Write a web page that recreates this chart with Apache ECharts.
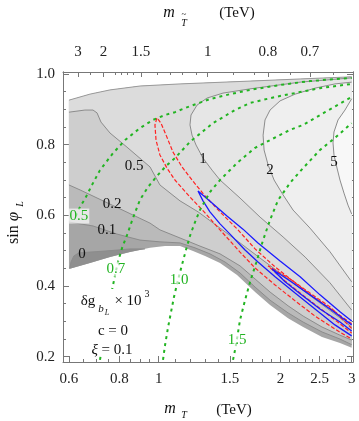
<!DOCTYPE html>
<html>
<head>
<meta charset="utf-8">
<script src="https://cdn.jsdelivr.net/npm/echarts@6/dist/echarts.min.js"></script>
<style>
  html, body { margin: 0; padding: 0; background: #fff; }
  #chart { width: 359px; height: 421px; }
</style>
</head>
<body>
<div id="chart"></div>
<script>
// points are [m_T (TeV), sin phi_L]

// edges of the allowed region
const upperEdge = [[0.600, 0.926], [0.676, 0.943], [0.758, 0.955], [0.899, 0.966], [1.129, 0.972], [1.682, 0.980], [2.237, 0.986], [3.0, 0.992]]
const lowerEdge = [[0.600, 0.448], [0.676, 0.465], [0.758, 0.482], [0.849, 0.496], [0.952, 0.508], [1.037, 0.513], [1.129, 0.513], [1.216, 0.499], [1.302, 0.485], [1.418, 0.465], [1.562, 0.431], [1.731, 0.383], [1.885, 0.346], [2.089, 0.309], [2.276, 0.284], [2.534, 0.256], [2.807, 0.239], [3.0, 0.225]]

// delta g contours (x 10^3)
const contour0 = [[0.603, 0.451], [0.607, 0.468], [0.617, 0.485], [0.635, 0.494], [0.676, 0.496], [0.737, 0.499], [0.793, 0.502], [0.849, 0.505], [0.925, 0.505]]
const contour01 = [[0.600, 0.581], [0.688, 0.570], [0.789, 0.547], [0.899, 0.530], [1.007, 0.525], [1.129, 0.522], [1.230, 0.508], [1.339, 0.491], [1.459, 0.468], [1.589, 0.437], [1.731, 0.397], [1.885, 0.360], [2.089, 0.324], [2.276, 0.298], [2.534, 0.270], [2.807, 0.250], [3.0, 0.234]]
const contour02 = [[0.600, 0.686], [0.639, 0.672], [0.767, 0.629], [0.952, 0.578], [1.007, 0.559], [1.129, 0.536], [1.265, 0.513], [1.418, 0.491], [1.589, 0.457], [1.731, 0.420], [1.885, 0.383], [2.089, 0.344], [2.276, 0.315], [2.534, 0.284], [2.807, 0.261], [3.0, 0.247]]
const contour05 = [[0.600, 0.892], [0.657, 0.898], [0.688, 0.898], [0.704, 0.890], [0.720, 0.864], [0.758, 0.833], [0.835, 0.793], [0.952, 0.737], [1.007, 0.686], [1.129, 0.641], [1.251, 0.610], [1.418, 0.564], [1.589, 0.522], [1.781, 0.479], [1.996, 0.437], [2.237, 0.394], [2.505, 0.352], [2.807, 0.310], [3.0, 0.284]]
const contour1 = [[3.0, 0.989], [2.237, 0.977], [1.682, 0.958], [1.442, 0.946], [1.317, 0.932], [1.244, 0.912], [1.202, 0.884], [1.195, 0.856], [1.209, 0.827], [1.237, 0.799], [1.287, 0.762], [1.355, 0.728], [1.418, 0.700], [1.589, 0.649], [1.781, 0.595], [2.030, 0.539], [2.302, 0.482], [2.652, 0.409], [3.0, 0.332]]
const contour2 = [[3.0, 0.977], [2.728, 0.972], [2.435, 0.960], [2.174, 0.943], [1.996, 0.924], [1.885, 0.898], [1.832, 0.870], [1.812, 0.827], [1.822, 0.785], [1.864, 0.743], [1.929, 0.700], [2.030, 0.658], [2.149, 0.615], [2.366, 0.564], [2.652, 0.497], [3.0, 0.412]]
const contour5 = [[3.0, 0.930], [2.888, 0.898], [2.776, 0.870], [2.713, 0.836], [2.698, 0.805], [2.713, 0.771], [2.760, 0.734], [2.807, 0.700], [2.872, 0.663], [2.938, 0.629], [3.0, 0.604]]

// allowed regions
const blueOuter = [[3.0, 0.301], [2.807, 0.327], [2.505, 0.375], [2.237, 0.426], [1.996, 0.471], [1.760, 0.522], [1.616, 0.561], [1.475, 0.598], [1.355, 0.635], [1.251, 0.669], [1.287, 0.641], [1.339, 0.610], [1.418, 0.576], [1.501, 0.547], [1.635, 0.502], [1.760, 0.468], [1.940, 0.426], [2.174, 0.380], [2.435, 0.335], [2.728, 0.290], [3.0, 0.259]]
const blueInner = [[3.0, 0.290], [2.652, 0.335], [2.366, 0.375], [2.113, 0.414], [1.907, 0.448], [2.053, 0.412], [2.237, 0.378], [2.505, 0.335], [2.807, 0.298], [3.0, 0.273]]
const redOuter = [[3.0, 0.293], [2.728, 0.327], [2.435, 0.366], [2.174, 0.409], [1.940, 0.454], [1.731, 0.505], [1.571, 0.559], [1.418, 0.610], [1.302, 0.655], [1.209, 0.700], [1.142, 0.737], [1.085, 0.779], [1.043, 0.827], [1.013, 0.861], [0.990, 0.876], [0.979, 0.856], [0.985, 0.813], [1.007, 0.771], [1.048, 0.734], [1.097, 0.700], [1.195, 0.652], [1.302, 0.607], [1.418, 0.559], [1.589, 0.496], [1.731, 0.451], [1.940, 0.403], [2.174, 0.358], [2.435, 0.315], [2.728, 0.278], [3.0, 0.250]]
const redInner = [[3.0, 0.280], [2.652, 0.341], [2.366, 0.380], [2.113, 0.420], [1.864, 0.457], [2.053, 0.414], [2.302, 0.369], [2.652, 0.315], [3.0, 0.267]]

// m_T~ contours
const tilde05 = [[0.624, 0.598], [0.639, 0.624], [0.657, 0.646], [0.684, 0.686], [0.716, 0.728], [0.771, 0.776], [0.826, 0.813], [0.899, 0.847], [0.968, 0.870], [1.037, 0.884], [1.097, 0.892], [1.195, 0.909], [1.339, 0.929], [1.501, 0.943], [1.682, 0.955], [1.996, 0.969], [2.366, 0.980], [3.0, 0.989]]
const tilde07 = [[0.716, 0.191], [0.732, 0.261], [0.749, 0.332], [0.767, 0.389], [0.780, 0.431], [0.793, 0.468], [0.812, 0.508], [0.835, 0.544], [0.864, 0.593], [0.899, 0.644], [0.941, 0.680], [0.990, 0.711], [1.043, 0.740], [1.097, 0.762], [1.195, 0.808], [1.362, 0.861], [1.544, 0.898], [1.682, 0.918], [1.940, 0.935], [2.237, 0.949], [2.505, 0.960], [3.0, 0.972]]
const tilde10 = [[1.025, 0.191], [1.037, 0.233], [1.054, 0.281], [1.073, 0.327], [1.091, 0.369], [1.116, 0.417], [1.142, 0.460], [1.168, 0.502], [1.195, 0.542], [1.230, 0.581], [1.265, 0.615], [1.339, 0.666], [1.418, 0.700], [1.562, 0.748], [1.731, 0.791], [1.885, 0.813], [2.113, 0.842], [2.276, 0.856], [2.577, 0.892], [3.0, 0.935]]
const tilde15 = [[1.527, 0.191], [1.553, 0.233], [1.589, 0.304], [1.635, 0.360], [1.682, 0.411], [1.741, 0.465], [1.812, 0.530], [1.885, 0.587], [1.973, 0.643], [2.113, 0.692], [2.276, 0.734], [2.505, 0.785], [2.728, 0.819], [3.0, 0.861]]

// labels
const contourLabels = ['0.5', '0.2', '0.1', '0', '1', '2', '5']
const contourLabelAt = [[0.869, 0.740], [0.767, 0.632], [0.745, 0.559], [0.646, 0.491], [1.287, 0.759], [1.885, 0.728], [2.713, 0.751]]
const tildeLabels = ['0.5', '0.7', '1.0', '1.5']
const tildeLabelAt = [[0.635, 0.598], [0.784, 0.448], [1.123, 0.417], [1.562, 0.247]]

// ticks
const bottomMajor = [0.6, 0.8, 1, 1.5, 2, 2.5, 3]
const bottomMinor = [0.65, 0.7, 0.75, 0.85, 0.9, 0.95, 1.1, 1.2, 1.3, 1.4, 1.6, 1.7, 1.8, 1.9, 2.1, 2.2, 2.3, 2.4, 2.6, 2.7, 2.8, 2.9]
const topMajorLabels = ['3', '2', '1.5', '1', '0.8', '0.7']
const topMajorAt = [0.632, 0.730, 0.903, 1.322, 1.863, 2.366]
const topMinorAt = [0.676, 0.780, 0.806, 0.835, 0.865, 0.990, 1.067, 1.142, 1.237, 1.527, 1.72, 2.11, 2.70]
const yMajor = [0.2, 0.4, 0.6, 0.8, 1.0]
const yMinor = [0.25, 0.3, 0.35, 0.45, 0.5, 0.55, 0.65, 0.7, 0.75, 0.85, 0.9, 0.95]

const levelColors = ['#8f8f8f', '#a6a6a6', '#bababa', '#cecece', '#dcdcdc', '#e6e6e6', '#efefef', '#f8f8f8']
const SERIF = '"Liberation Serif", "DejaVu Serif", serif'
const FRAME = '#777'
const GREEN = '#22b422'

const lg = v => Math.log10(v)
const X_MIN = lg(0.58)
const X_MAX = lg(3.023)
const Y_MIN = 0.185
const Y_MAX = 1.0057

const nearest = (list, v) => {
  let best = 0
  list.forEach((p, i) => { if (Math.abs(lg(p) - v) < Math.abs(lg(list[best]) - v)) best = i })
  return best
}

function area(points, color) {
  return {
    type: 'custom',
    silent: true,
    z: 1,
    clip: true,
    data: [[0, 0.5]],
    renderItem: function(params, api) {
      return {
        type: 'polygon',
        shape: { points: points.map(p => api.coord([lg(p[0]), p[1]])) },
        style: { fill: color }
      }
    }
  }
}

function curve(points, lineStyle, z) {
  return {
    type: 'line',
    silent: true,
    z: z,
    symbol: 'none',
    animation: false,
    data: points.map(p => [lg(p[0]), p[1]]),
    lineStyle: lineStyle
  }
}

function textMarks(texts, at, style, z) {
  return {
    type: 'custom',
    silent: true,
    z: z,
    clip: false,
    data: at.map(p => [lg(p[0]), p[1]]),
    renderItem: function(params, api) {
      const pt = api.coord([api.value(0), api.value(1)])
      return {
        type: 'text',
        x: pt[0],
        y: pt[1],
        style: Object.assign({ text: texts[params.dataIndex], align: 'center', verticalAlign: 'middle' }, style)
      }
    }
  }
}

const grayLine = { color: '#8c8c8c', width: 1 }
const blueLine = { color: '#1a1aff', width: 1.3 }
const redLine = { color: '#ff2222', width: 1.2, type: [4, 2] }
const greenLine = { color: GREEN, width: 2, type: [3, 4] }

const domain = upperEdge.concat(lowerEdge.slice().reverse())
const darkPart = contour0.concat(lowerEdge.slice(0, 4).reverse())

const series = [
  area(domain, levelColors[1]),
  area(darkPart, levelColors[0]),
  area(upperEdge.concat(contour01.slice().reverse()), levelColors[2]),
  area(upperEdge.concat(contour02.slice().reverse()), levelColors[3]),
  area(upperEdge.concat(contour05.slice().reverse()), levelColors[4]),
  area(contour1, levelColors[5]),
  area(contour2, levelColors[6]),
  area(contour5, levelColors[7]),
  curve(upperEdge, { color: '#9a9a9a', width: 1 }, 2),
  curve(contour0, grayLine, 2),
  curve(contour01, grayLine, 2),
  curve(contour02, grayLine, 2),
  curve(contour05, grayLine, 2),
  curve(contour1, grayLine, 2),
  curve(contour2, grayLine, 2),
  curve(contour5, grayLine, 2),
  curve(redOuter, redLine, 3),
  curve(redInner, redLine, 3),
  curve(blueOuter, blueLine, 3),
  curve(blueInner, blueLine, 3),
  curve(tilde05, greenLine, 4),
  curve(tilde07, greenLine, 4),
  curve(tilde10, greenLine, 4),
  curve(tilde15, greenLine, 4),
  textMarks(contourLabels, contourLabelAt, { font: '15px ' + SERIF, fill: '#111' }, 5),
  textMarks(tildeLabels, tildeLabelAt, {
    font: '15px ' + SERIF, fill: GREEN, backgroundColor: 'rgba(255,255,255,0.65)', padding: [0, 1]
  }, 5)
]

const tickFont = { fontFamily: SERIF, fontSize: 15, color: '#222' }
const noSplit = { show: false }

function xAxis(position, major, labels, length, showLine) {
  const vals = major.map(lg)
  return {
    type: 'value',
    position: position,
    min: X_MIN,
    max: X_MAX,
    splitLine: noSplit,
    axisLine: { show: showLine, onZero: false, lineStyle: { color: FRAME } },
    axisTick: { inside: true, length: length, customValues: vals, lineStyle: { color: FRAME } },
    axisLabel: labels ? Object.assign({
      customValues: vals,
      margin: position === 'top' ? 12 : 10,
      formatter: v => labels[nearest(major, v)]
    }, tickFont) : { show: false }
  }
}

function yAxis(position, ticks, length, showLabels) {
  return {
    type: 'value',
    position: position,
    min: Y_MIN,
    max: Y_MAX,
    splitLine: noSplit,
    axisLine: { show: true, onZero: false, lineStyle: { color: FRAME } },
    axisTick: { inside: true, length: length, customValues: ticks, lineStyle: { color: FRAME } },
    axisLabel: showLabels ? Object.assign({
      customValues: ticks, margin: 8, formatter: v => v.toFixed(1)
    }, tickFont) : { show: false }
  }
}

function label(x, y, text, size, extra) {
  return {
    type: 'text', x: x, y: y, z: 20, silent: true,
    style: Object.assign({
      text: text, font: size + 'px ' + SERIF, fill: '#111', align: 'center', verticalAlign: 'middle'
    }, extra || {})
  }
}
const it = (x, y, text, size, extra) => label(x, y, text, size, Object.assign({ font: 'italic ' + size + 'px ' + SERIF }, extra || {}))

const chart = echarts.init(document.getElementById('chart'))
chart.setOption({
  animation: false,
  backgroundColor: '#fff',
  grid: { left: 63, top: 72, width: 290, height: 290, containLabel: false },
  xAxis: [
    xAxis('bottom', bottomMajor, bottomMajor.map(String), 6, true),
    xAxis('bottom', bottomMinor, null, 3, false),
    xAxis('top', topMajorAt, topMajorLabels, 5, true),
    xAxis('top', topMinorAt, null, 3, false)
  ],
  yAxis: [
    yAxis('left', yMajor, 6, true),
    yAxis('left', yMinor, 3, false),
    yAxis('right', yMajor, 6, false),
    yAxis('right', yMinor, 3, false)
  ],
  series: series,
  graphic: [
    // legend box hides the green lines behind the text
    { type: 'rect', z: 15, silent: true, shape: { x: 78, y: 289, width: 72, height: 65 }, style: { fill: '#fff' } },
    label(88, 301, 'δg', 15),
    it(101, 309, 'b', 11),
    it(107, 313, 'L', 8),
    label(128, 301, '× 10', 15),
    label(147, 294, '3', 10),
    label(113, 331, 'c = 0', 15),
    {
      type: 'text', x: 112, y: 350, z: 20, silent: true,
      style: {
        text: '{i|ξ} = 0.1', align: 'center', verticalAlign: 'middle', font: '15px ' + SERIF, fill: '#111',
        rich: { i: { fontStyle: 'italic', fontFamily: SERIF, fontSize: 15 } }
      }
    },
    // axis titles
    it(169, 13, 'm', 16),
    it(184, 23, 'T', 10),
    label(184, 15, '~', 9),
    label(237, 13, '(TeV)', 15),
    it(170, 409, 'm', 16),
    it(184, 415, 'T', 10),
    label(234, 410, '(TeV)', 15),
    {
      type: 'text', x: 14, y: 228, rotation: Math.PI / 2, z: 20, silent: true,
      style: {
        text: 'sin {i|φ}', align: 'center', verticalAlign: 'middle', font: '16px ' + SERIF, fill: '#111',
        rich: { i: { fontStyle: 'italic', fontFamily: SERIF, fontSize: 17 } }
      }
    },
    { type: 'text', x: 20, y: 204, rotation: Math.PI / 2, z: 20, silent: true,
      style: { text: 'L', font: 'italic 10px ' + SERIF, fill: '#111', align: 'center', verticalAlign: 'middle' } }
  ]
})
</script>
</body>
</html>
